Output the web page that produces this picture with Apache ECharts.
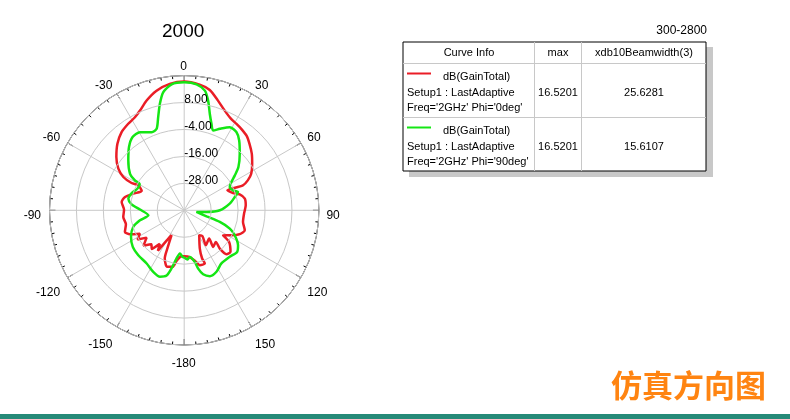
<!DOCTYPE html>
<html>
<head>
<meta charset="utf-8">
<script src="https://cdn.jsdelivr.net/npm/echarts@6/dist/echarts.min.js"></script>
<style>
html,body{margin:0;padding:0;background:#fff;}
#c{width:790px;height:419px;}
</style>
</head>
<body>
<div id="c"></div>
<script>
// ---- data (theta in degrees, gain in dB) ----
const redTheta = [-180,-176.7,-171.4,-168.4,-163,-158,-156,-153,-150,-147,-144,-140,-136,-131,-126,-122,-117.8,-113.8,-110,-103.5,-96.2,-89.4,-82.4,-77.3,-71.9,-65.6,-61.5,-62.6,-61.3,-57.7,-51.9,-45.1,-38.7,-32.9,-27.9,-23.9,-18.9,-13,-6.5,0,7,12,17,22,27,31,35,40,44.5,50,55.6,61.4,64.8,67,65.2,70.5,74,79.1,85.4,93.2,101.2,108.2,113.3,117.8,122.7,125.1,131.9,136.1,137.1,135,141.6,138.6,148.2,144.8,149,157.8,159.6,158.8,164.1,168.1,173.9,180];
const redGain  = [-19.5,-19.5,-17.2,-14.3,-13.7,-16.9,-22,-27.6,-24.5,-18.5,-21.5,-17.5,-19,-16,-19.3,-15.5,-17.7,-13.6,-11.9,-13.3,-12.7,-13.2,-11.9,-13,-16.1,-19.2,-16.7,-13.6,-9.1,-5.3,-1.6,2,4.6,5.9,6.9,8.6,11.7,14.7,16.7,17.4,16.4,14.8,11.2,8,5.8,5,4.3,3.3,1.5,-0.7,-3.3,-6,-8.7,-11.6,-18.8,-16.9,-14.3,-12.5,-12.5,-13.3,-13.3,-11.6,-13.1,-16.2,-19.4,-15.6,-12.3,-12.9,-16.7,-20.1,-19.2,-23.2,-21.7,-25.9,-27,-21.6,-17.1,-14.6,-14.6,-17,-19.1,-19.5];

const greenTheta = [-180,-177.9,-174.3,-171,-167.7,-164.9,-160,-153.3,-144.8,-134.4,-125.4,-116.6,-108.1,-102.7,-97.9,-89,-83.5,-78.2,-71.8,-65.3,-59.5,-58.7,-56,-48.2,-41.1,-35.2,-29.5,-22.6,-18.7,-15.6,-12.9,-10.1,-5.7,0,5.6,9.8,12.3,14.9,17.5,19.9,23.6,28.7,33.7,38.2,44.5,51.4,55.4,59.1,62.9,67.8,71.2,75.3,81.7,90,94.3,97.7,105,108.1,111.9,116.3,123,128.2,135.6,145,152.3,158.7,163.5,166.5,168.3,173.1,176.5,180];
const greenGain  = [-19,-19.3,-20.7,-18.3,-13.5,-9.9,-8.5,-9.3,-11,-11.4,-11.9,-13.5,-16.1,-19.8,-23.9,-20.3,-16.4,-14.6,-15.4,-17,-17,-14.3,-10.9,-6.6,-2.6,-0.1,0,-2.3,-1.7,3.1,8.6,13.4,16.4,17,16.4,14.1,10,4.4,0.4,-2.2,-0.4,2.2,1.9,-0.4,-4.7,-9.1,-12.6,-15.5,-17.2,-16.5,-14.7,-16.7,-19.5,-24.1,-30,-34.5,-29.7,-23.3,-18.1,-14.9,-11.4,-10,-11,-11.1,-9.1,-8.5,-10.3,-13.3,-16.5,-19.1,-18,-19];

const radiusTicks = {min: -40, max: 20, step: 12};
const angleLabels = {min: 0, max: 360, step: 30};

const tableHeader = ['Curve Info', 'max', 'xdb10Beamwidth(3)'];
const curveNames = ['dB(GainTotal)', 'dB(GainTotal)'];
const curveSetup = ['Setup1 : LastAdaptive', 'Setup1 : LastAdaptive'];
const curveFreq = ["Freq='2GHz' Phi='0deg'", "Freq='2GHz' Phi='90deg'"];
const curveMax = ['16.5201', '16.5201'];
const curveBeam = ['25.6281', '15.6107'];
const curveColors = ['#ea1d26', '#14e614'];

// ---- build ----
function toPairs(th, g) {
  return th.map((t, i) => [g[i], t < 0 ? t + 360 : t]);
}
const FONT = '"Liberation Sans", Arial, sans-serif';
const CX = 184.2, CY = 210.3, R = 134.7;

const chart = echarts.init(document.getElementById('c'), null, {renderer: 'canvas'});

function txt(x, y, text, align, size) {
  return {type: 'text', x: x, y: y, z: 20,
    style: {text: text, fill: '#000', font: (size || 11) + 'px ' + FONT, align: align || 'left', verticalAlign: 'middle'}};
}

const tbl = [];
tbl.push({type: 'rect', shape: {x: 409, y: 47, width: 304, height: 130}, style: {fill: '#c8c8c8'}, z: 10});
tbl.push({type: 'rect', shape: {x: 403, y: 42, width: 303, height: 129}, style: {fill: '#fff', stroke: '#000', lineWidth: 1}, z: 11});
tbl.push({type: 'line', shape: {x1: 403, y1: 63.5, x2: 706, y2: 63.5}, style: {stroke: '#c8c8c8', lineWidth: 1}, z: 12});
tbl.push({type: 'line', shape: {x1: 403, y1: 117.5, x2: 706, y2: 117.5}, style: {stroke: '#c8c8c8', lineWidth: 1}, z: 12});
tbl.push({type: 'line', shape: {x1: 534.5, y1: 42, x2: 534.5, y2: 171}, style: {stroke: '#c8c8c8', lineWidth: 1}, z: 12});
tbl.push({type: 'line', shape: {x1: 581.5, y1: 42, x2: 581.5, y2: 171}, style: {stroke: '#c8c8c8', lineWidth: 1}, z: 12});
tbl.push(txt(469, 53, tableHeader[0], 'center'));
tbl.push(txt(558, 53, tableHeader[1], 'center'));
tbl.push(txt(644, 53, tableHeader[2], 'center'));
const rowY = [63.5, 117.5];
for (let i = 0; i < 2; i++) {
  const y0 = rowY[i];
  tbl.push({type: 'line', shape: {x1: 407, y1: y0 + 10, x2: 431, y2: y0 + 10}, style: {stroke: curveColors[i], lineWidth: 2}, z: 12});
  tbl.push(txt(443, y0 + 13, curveNames[i], 'left'));
  tbl.push(txt(407, y0 + 29, curveSetup[i], 'left'));
  tbl.push(txt(407, y0 + 44.5, curveFreq[i], 'left'));
  tbl.push(txt(558, y0 + 29, curveMax[i], 'center'));
  tbl.push(txt(644, y0 + 29, curveBeam[i], 'center'));
}
tbl.push(txt(707, 31, '300-2800', 'right', 12));
tbl.push({type: 'text', x: 611, y: 385, z: 20,
  style: {text: '仿真方向图', fill: '#ff8411', font: 'bold 31px "Noto Sans CJK SC", sans-serif', align: 'left', verticalAlign: 'middle'}});
tbl.push({type: 'rect', shape: {x: 0, y: 414, width: 790, height: 5}, style: {fill: '#268a78'}, z: 20});
tbl.push({type: 'text', x: 162, y: 31.5, z: 20,
  style: {text: '2000', fill: '#000', font: '19px ' + FONT, align: 'left', verticalAlign: 'middle'}});

const angleFmt = v => String(v >= 180 ? v - 360 : v);

chart.setOption({
  backgroundColor: '#fff',
  animation: false,
  polar: [
    {center: [CX, CY], radius: R},
    {center: [CX - 0.5, CY + 5], radius: R}
  ],
  angleAxis: [{
    polarIndex: 0,
    type: 'value', min: angleLabels.min, max: angleLabels.max, interval: angleLabels.step,
    startAngle: 90, clockwise: true,
    axisLine: {show: true, lineStyle: {color: '#000', width: 1}},
    axisTick: {show: true, inside: true, length: 6, lineStyle: {color: '#000'}},
    minorTick: {show: true, splitNumber: 6, length: 3, lineStyle: {color: '#000'}},
    axisLabel: {show: false},
    splitLine: {show: true, lineStyle: {color: '#c8c8c8', width: 1}}
  }, {
    polarIndex: 1,
    type: 'value', min: angleLabels.min, max: angleLabels.max, interval: angleLabels.step,
    startAngle: 90, clockwise: true,
    axisLine: {show: false}, axisTick: {show: false}, splitLine: {show: false},
    axisLabel: {color: '#000', fontSize: 12, fontFamily: FONT, margin: 8, formatter: angleFmt}
  }],
  radiusAxis: [{
    polarIndex: 0,
    type: 'value', min: radiusTicks.min, max: radiusTicks.max, interval: radiusTicks.step,
    axisLine: {show: false}, axisTick: {show: false},
    axisLabel: {
      color: '#000', fontSize: 12, fontFamily: FONT, margin: 0, align: 'left',
      verticalAlign: 'bottom', lineHeight: 6,
      formatter: v => (v === radiusTicks.min || v === radiusTicks.max) ? '' : v.toFixed(2)
    },
    splitLine: {show: true, lineStyle: {color: '#c8c8c8', width: 1}},
    z: 5
  }, {
    polarIndex: 1, type: 'value', min: radiusTicks.min, max: radiusTicks.max, show: false
  }],
  series: [
    {type: 'line', coordinateSystem: 'polar', polarIndex: 0, data: toPairs(redTheta, redGain), showSymbol: false, symbol: 'none',
      smooth: 0.25, lineStyle: {color: curveColors[0], width: 2.5}, z: 3},
    {type: 'line', coordinateSystem: 'polar', polarIndex: 0, data: toPairs(greenTheta, greenGain), showSymbol: false, symbol: 'none',
      smooth: 0.25, lineStyle: {color: curveColors[1], width: 2.5}, z: 4}
  ],
  graphic: tbl
});
</script>
</body>
</html>
